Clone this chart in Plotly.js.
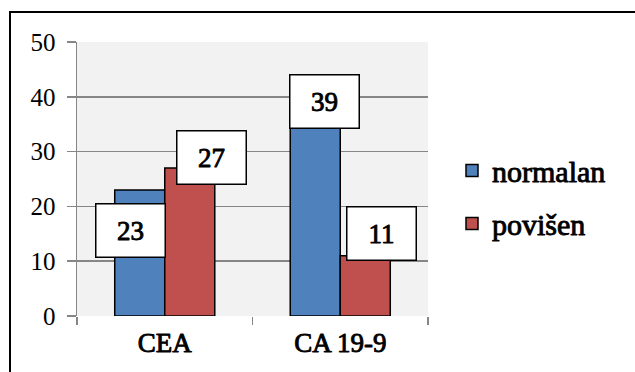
<!DOCTYPE html>
<html>
<head>
<meta charset="utf-8">
<script src="https://cdn.plot.ly/plotly-3.0.1.min.js"></script>
<style>
html,body{margin:0;padding:0;background:#fff;}
#chart{width:635px;height:372px;}
#chart .xtick text, #chart text.legendtext, #chart text.annotation-text{
  stroke:#000 !important; stroke-width:0.9px !important; stroke-linejoin:round;
}
</style>
</head>
<body>
<div id="chart"></div>
<script>
const categories = ["CEA", "CA 19-9"];
const seriesNames = ["normalan", "povišen"];
const normalan = [23, 39];
const povisen = [27, 11];
const yTicks = [0, 10, 20, 30, 40, 50];

const FONT = 'Liberation Serif';
const L = 77, R = 207, T = 42, B = 56, W = 635, H = 372;
const pw = W - L - R, ph = H - T - B;
const px = v => (v - L) / pw;
const py = v => (H - B - v) / ph;

const traces = [
  {type: 'bar', name: seriesNames[0], x: categories, y: normalan, legendgroup: 'a',
   marker: {color: '#4f81bd', line: {color: '#000', width: 1.5}}, hoverinfo: 'none'},
  {type: 'bar', name: seriesNames[1], x: categories, y: povisen, legendgroup: 'b',
   marker: {color: '#c0504d', line: {color: '#000', width: 1.5}}, hoverinfo: 'none'}
];

// label offsets (pixels) relative to category centre / bar top
const labelShift = [
  [{dx: -34, dy: -41}, {dx: -16, dy: 1}],
  [{dx: 47, dy: 11}, {dx: 41, dy: 22}]
];
const annotations = [];
[normalan, povisen].forEach((vals, s) => {
  vals.forEach((v, i) => {
    annotations.push({
      xref: 'x', yref: 'y', x: categories[i], y: v, showarrow: false,
      text: String(v), font: {family: FONT, size: 27, color: '#000'},
      bgcolor: '#fff', bordercolor: '#000', borderwidth: 1.5, borderpad: 0,
      width: 68, height: 52, xshift: labelShift[s][i].dx, yshift: labelShift[s][i].dy
    });
  });
});

const layout = {
  width: W, height: H,
  margin: {l: L, r: R, t: T, b: B},
  paper_bgcolor: '#fff', plot_bgcolor: '#f2f2f2',
  barmode: 'group', bargap: 0.43, bargroupgap: 0,
  font: {family: FONT, size: 25, color: '#000'},
  xaxis: {
    type: 'category', tickson: 'boundaries', ticks: 'outside', ticklen: 8, tickwidth: 1.5,
    tickcolor: '#868686', showgrid: false, showline: false, zeroline: false,
    tickfont: {family: FONT, size: 27, color: '#000'},
    ticklabelstandoff: 8
  },
  yaxis: {
    range: [0, 50], tickvals: yTicks, ticktext: yTicks.map(String),
    ticks: 'outside', ticklen: 9, tickwidth: 1.5, tickcolor: '#868686',
    showgrid: true, gridcolor: '#868686', gridwidth: 1.5,
    showline: true, linecolor: '#868686', linewidth: 1.5, zeroline: false,
    tickfont: {family: FONT, size: 25, color: '#000'},
    ticklabelstandoff: 6
  },
  showlegend: true,
  legend: {
    x: px(452), xanchor: 'left', y: py(197), yanchor: 'middle',
    font: {family: FONT, size: 30, color: '#000'},
    traceorder: 'grouped', tracegroupgap: 11, bgcolor: 'rgba(0,0,0,0)'
  },
  annotations: annotations,
  shapes: [{
    type: 'rect', xref: 'paper', yref: 'paper', layer: 'above',
    x0: px(10), x1: px(660), y0: py(400), y1: py(12),
    line: {color: '#000', width: 2}, fillcolor: 'rgba(0,0,0,0)'
  }]
};

Plotly.newPlot('chart', traces, layout, {displayModeBar: false, staticPlot: true});
</script>
</body>
</html>
